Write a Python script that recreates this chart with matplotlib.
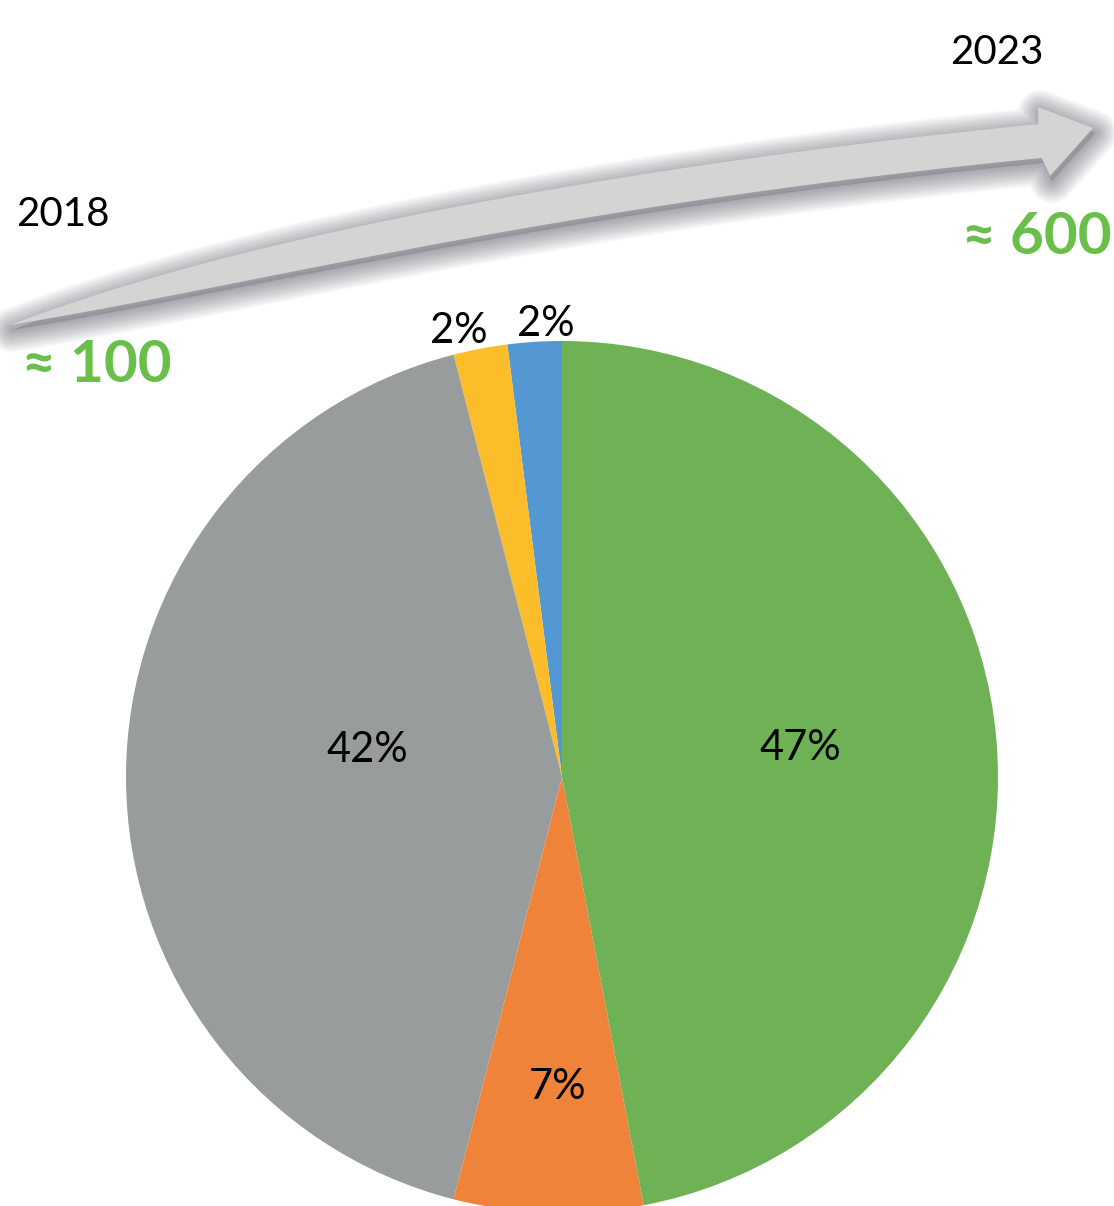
import numpy as np
import matplotlib
matplotlib.use("Agg")
import matplotlib.pyplot as plt
from matplotlib.patches import Polygon

plt.rcParams['font.family'] = ['Lato', 'DejaVu Sans']

# pie data (counter-clockwise from 12 o'clock)
shares = [2, 2, 42, 7, 47]
colors = ['#5398D3', '#FBBD2A', '#999C9C', '#F0833A', '#6FB256']
label_dist = [1.04, 1.05, 0.45, 0.71, 0.55]
label_turn = [-1.6, 2.2, -8.0, 1.0, 1.5]   # degrees, nudges off mid angle

years = ['2018', '2023']
totals = ['≈ 100', '≈ 600']

W, H = 1114, 1206
fig = plt.figure(figsize=(W / 100, H / 100), dpi=100)
ax = fig.add_axes([0, 0, 1, 1])

def Y(y):
    # pixel row -> axes y (y up)
    return H - y

cx, cy, r = 562, Y(777), 436
wedges, _ = ax.pie(shares, colors=colors, startangle=90, counterclock=True,
                   center=(cx, cy), radius=r, wedgeprops=dict(linewidth=0))

for w, val, d, dt in zip(wedges, shares, label_dist, label_turn):
    ang = np.deg2rad((w.theta1 + w.theta2) / 2 + dt)
    tx, ty = cx + d * r * np.cos(ang), cy + d * r * np.sin(ang)
    ax.text(tx, ty, f'{val}%', ha='center', va='center', fontsize=30, color='black')

# curved arrow (decoration)
t = np.linspace(0, 1, 200)
P0, P1, P2 = np.array([10, 325]), np.array([492, 195]), np.array([1040, 141])
pts = ((1 - t)[:, None] ** 2) * P0 + (2 * (1 - t) * t)[:, None] * P1 + (t[:, None] ** 2) * P2
der = 2 * (1 - t)[:, None] * (P1 - P0) + 2 * t[:, None] * (P2 - P1)
der = der / np.linalg.norm(der, axis=1)[:, None]
nrm = np.column_stack([der[:, 1], -der[:, 0]])
wid = 34 * (1 - (1 - t) ** 6) / 2
upper = pts + nrm * wid[:, None]
lower = pts - nrm * wid[:, None]
head = np.array([[1038, 107], [1093, 128], [1050, 176]])
outline = np.vstack([upper, head, lower[::-1]])
outline = np.column_stack([outline[:, 0], Y(outline[:, 1])])

# soft shadow: stack of faint, growing outlines shifted down
for lw in np.arange(32, 0, -2):
    sh = Polygon(outline + np.array([2, -5]), closed=True, facecolor='none',
                 edgecolor='#3c3a48', linewidth=lw, alpha=0.03, joinstyle='round')
    ax.add_patch(sh)
ax.add_patch(Polygon(outline + np.array([2, -5]), closed=True, facecolor='#3c3a48',
                     edgecolor='none', alpha=0.2))
ax.add_patch(Polygon(outline, closed=True, facecolor='#D4D4D4', edgecolor='none'))

ax.text(63, Y(215), years[0], ha='center', va='center', fontsize=29, color='black')
ax.text(997, Y(52), years[1], ha='center', va='center', fontsize=29, color='black')
ax.text(97, Y(365), totals[0], ha='center', va='center', fontsize=42,
        fontweight='bold', color='#6ABF4B')
ax.text(1037, Y(238), totals[1], ha='center', va='center', fontsize=42,
        fontweight='bold', color='#6ABF4B')

ax.set_xlim(0, W)
ax.set_ylim(0, H)
ax.set_aspect('auto')
ax.axis('off')

fig.savefig('out.png', dpi=100, facecolor='white')
